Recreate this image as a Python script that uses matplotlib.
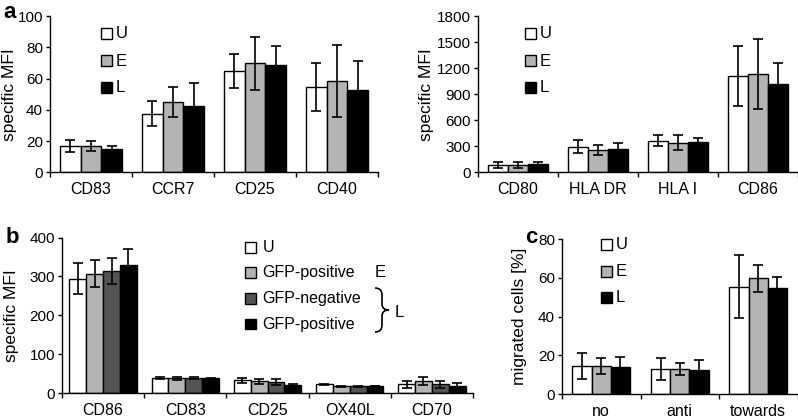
import matplotlib
matplotlib.use("Agg")
import matplotlib.pyplot as plt
import numpy as np
from matplotlib.path import Path
from matplotlib.patches import PathPatch, Rectangle

plt.rcParams['font.family'] = ['Liberation Sans', 'DejaVu Sans']

# ---------------- data ----------------
a1_cats = ['CD83', 'CCR7', 'CD25', 'CD40']
a1_U = [17, 37.5, 64.8, 54.6]
a1_U_err = [3.9, 8.1, 10.9, 15.4]
a1_E = [17, 45.2, 69.7, 58.6]
a1_E_err = [3.2, 9.5, 17, 23]
a1_L = [15, 42.4, 68.9, 52.9]
a1_L_err = [1.7, 15, 12, 18.5]

a2_cats = ['CD80', 'HLA DR', 'HLA I', 'CD86']
a2_U = [88, 297, 366, 1110]
a2_U_err = [35, 71, 60, 341]
a2_E = [88, 256, 343, 1133]
a2_E_err = [35, 54, 85, 405]
a2_L = [92, 266, 347, 1014]
a2_L_err = [31, 69, 50, 246]

b_cats = ['CD86', 'CD83', 'CD25', 'OX40L', 'CD70']
b_U = [294.5, 38, 33, 22, 23]
b_U_err = [40, 2.5, 6.4, 2, 9]
b_Epos = [306.5, 38, 30, 17, 31]
b_Epos_err = [35, 3.5, 6, 2, 11]
b_Lneg = [313, 38, 29, 17, 22]
b_Lneg_err = [33, 2.5, 8, 2, 9]
b_Lpos = [330.5, 38, 20.5, 18, 19]
b_Lpos_err = [39, 1, 2.5, 1, 7]

c_cats = ['no', 'anti', 'towards']
c_U = [14.5, 12.9, 55.5]
c_U_err = [6.9, 5.8, 16.4]
c_E = [14.5, 12.9, 59.8]
c_E_err = [4, 3.3, 6.9]
c_L = [14, 12.2, 54.8]
c_L_err = [5, 5.2, 5.9]

abc_labels = ['U', 'E', 'L']
b_labels = ['U', 'GFP-positive', 'GFP-negative', 'GFP-positive']

WHITE, GREY, DARK, BLACK = '#ffffff', '#b4b4b4', '#545454', '#000000'

W, H = 798, 419
fig = plt.figure(figsize=(W / 100, H / 100), dpi=100)


def fx(x):
    return x / W


def fy(y):
    return 1 - y / H


def add_axes(x0, x1, ytop, ybot):
    return fig.add_axes([fx(x0), fy(ybot), fx(x1 - x0), (ybot - ytop) / H])


def draw_panel(ax, cats, series, errs, colors, bw, ymax, ystep, ylabel, ylabel_x):
    n = len(cats)
    k = len(series)
    x = np.arange(n) + 0.5
    for i, (vals, e, col) in enumerate(zip(series, errs, colors)):
        pos = x + (i - (k - 1) / 2) * bw
        ax.bar(pos, vals, width=bw, color=col, edgecolor='black', linewidth=1.0, zorder=2)
        ax.errorbar(pos, vals, yerr=e, fmt='none', ecolor='black', elinewidth=1.2,
                    capsize=3.4, capthick=1.2, zorder=3)
    ax.set_xlim(0, n)
    ax.set_ylim(0, ymax)
    ax.set_yticks(np.arange(0, ymax + ystep / 2, ystep))
    ax.set_xticks(np.arange(0, n + 1))
    ax.set_xticklabels([])
    ax.set_xticks(x, minor=True)
    ax.set_xticklabels(cats, minor=True, fontsize=11.5)
    ax.tick_params(axis='x', which='major', direction='out', length=3.5, width=1.0)
    ax.tick_params(axis='x', which='minor', length=0, pad=7)
    ax.tick_params(axis='y', direction='out', length=3, width=1.0, labelsize=11, pad=2)
    for s in ['top', 'right']:
        ax.spines[s].set_visible(False)
    for s in ['left', 'bottom']:
        ax.spines[s].set_linewidth(1.0)
    ax.set_ylabel(ylabel, fontsize=12.5)
    ax.yaxis.set_label_coords(ylabel_x, 0.5)
    ax.patch.set_alpha(0)


def legend(x_sq, y_centers, labels, colors, size=11, fs=12, tx_gap=4):
    for yc, lab, col in zip(y_centers, labels, colors):
        fig.patches.append(Rectangle((fx(x_sq), fy(yc + size / 2)), size / W, size / H,
                                     facecolor=col, edgecolor='black', linewidth=1.0,
                                     transform=fig.transFigure, figure=fig))
        fig.text(fx(x_sq + size + tx_gap), fy(yc), lab, fontsize=fs, va='center', ha='left')


# panel a left
ax1 = add_axes(50, 378, 16, 172.3)
draw_panel(ax1, a1_cats, [a1_U, a1_E, a1_L], [a1_U_err, a1_E_err, a1_L_err],
           [WHITE, GREY, BLACK], 0.256, 100, 20, 'specific MFI', -0.10)
legend(101, [34, 61, 88], abc_labels, [WHITE, GREY, BLACK])

# panel a right
ax2 = add_axes(478, 797.5, 16, 172.3)
draw_panel(ax2, a2_cats, [a2_U, a2_E, a2_L], [a2_U_err, a2_E_err, a2_L_err],
           [WHITE, GREY, BLACK], 0.25, 1800, 300, 'specific MFI', -0.138)
legend(525, [34, 61, 88], abc_labels, [WHITE, GREY, BLACK])

# panel b
ax3 = add_axes(62, 473, 237.5, 393)
draw_panel(ax3, b_cats, [b_U, b_Epos, b_Lneg, b_Lpos],
           [b_U_err, b_Epos_err, b_Lneg_err, b_Lpos_err],
           [WHITE, GREY, DARK, BLACK], 0.205, 400, 100, 'specific MFI', -0.105)
legend(245, [247.7, 272.7, 298.7, 324], b_labels, [WHITE, GREY, DARK, BLACK], size=10.5, fs=11.5, tx_gap=7)
fig.text(fx(375), fy(272.7), 'E', fontsize=12, va='center', ha='left')
fig.text(fx(395), fy(312), 'L', fontsize=12, va='center', ha='left')
# brace
pts = [(375, 288), (382, 288), (382, 295), (382, 304), (382, 310), (389, 310),
       (382, 310), (382, 316), (382, 325), (382, 332), (375, 332)]
codes = [Path.MOVETO, Path.CURVE3, Path.CURVE3, Path.LINETO, Path.CURVE3, Path.CURVE3,
         Path.CURVE3, Path.CURVE3, Path.LINETO, Path.CURVE3, Path.CURVE3]
brace = Path([(fx(px), fy(py)) for px, py in pts], codes)
fig.patches.append(PathPatch(brace, facecolor='none', edgecolor='black', linewidth=1.2,
                             transform=fig.transFigure, figure=fig))

# panel c
ax4 = add_axes(562, 797.5, 239.3, 394)
draw_panel(ax4, c_cats, [c_U, c_E, c_L], [c_U_err, c_E_err, c_L_err],
           [WHITE, GREY, BLACK], 0.245, 80, 20, 'migrated cells [%]', -0.15)
legend(601, [244.7, 271.3, 297.3], abc_labels, [WHITE, GREY, BLACK])

# panel letters
fig.text(fx(3), fy(13), 'a', fontsize=16, fontweight='bold', va='center', ha='left')
fig.text(fx(6), fy(237), 'b', fontsize=16, fontweight='bold', va='center', ha='left')
fig.text(fx(525), fy(237), 'c', fontsize=16, fontweight='bold', va='center', ha='left')

fig.savefig('out.png', dpi=100)
